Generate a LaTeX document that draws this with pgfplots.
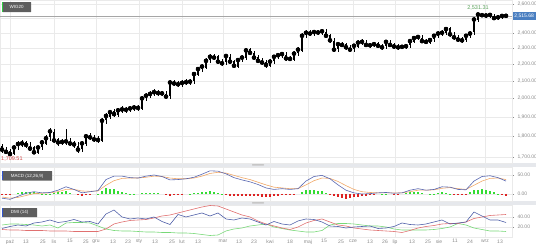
\documentclass[border=0pt]{standalone}
\usepackage{pgfplots}
\pgfplotsset{compat=1.18}
\usepackage{pgfplotstable}
\usepackage{fontspec}
\setmainfont{Liberation Sans}
\definecolor{gridc}{HTML}{EAEAEA}
\definecolor{tickc}{HTML}{8A8A8A}
\definecolor{sepc}{HTML}{E6E8EC}
\definecolor{boxc}{HTML}{5E5E5E}
\definecolor{macdb}{HTML}{5866B0}
\definecolor{macds}{HTML}{F0A868}
\definecolor{histg}{HTML}{33DD33}
\definecolor{histr}{HTML}{DD2222}
\definecolor{dmib}{HTML}{4F5FA8}
\definecolor{dmir}{HTML}{E07070}
\definecolor{dmig}{HTML}{78D878}
\definecolor{pricebox}{HTML}{4A7FC1}
\definecolor{hig}{HTML}{58A058}
\definecolor{lor}{HTML}{D04848}
\definecolor{stripeg}{HTML}{2ECC40}
\definecolor{stripeb}{HTML}{3355CC}

\pgfplotstableread{
x o h l c
2 1751 1760 1720 1735
6 1730 1748 1712 1724
10 1727 1737 1709.51 1714
14 1714 1759 1711 1745
18 1750 1776 1731 1762
22 1759 1780 1747 1765
26 1772 1778 1743 1758
30 1754 1770 1726 1740
34 1746 1753 1712 1722
38 1717 1757 1712 1745
42 1748 1784 1732 1770
46 1764 1805 1756 1790
50 1795 1842 1777 1825
54 1822 1837 1766 1780
58 1787 1794 1754 1770
62 1766 1787 1756 1772
66 1778 1836 1758 1775
70 1770 1790 1750 1765
74 1768 1779 1744 1760
78 1754 1772 1718 1735
82 1740 1778 1722 1765
86 1762 1814 1752 1800
90 1807 1816 1780 1795
94 1791 1808 1771 1785
98 1791 1800 1767 1782
102 1777 1894 1771 1880
106 1883 1920 1865 1905
110 1899 1939 1891 1925
114 1930 1940 1900 1915
118 1912 1949 1902 1935
122 1942 1956 1921 1940
126 1936 1954 1923 1938
130 1944 1960 1924 1945
134 1940 1965 1931 1950
138 1953 1964 1932 1948
142 1942 2014 1936 2000
146 2005 2030 1986 2015
150 2012 2041 2001 2025
154 2032 2050 2011 2035
158 2031 2049 2015 2030
162 2036 2044 2012 2028
166 2023 2041 1995 2010
170 2013 2105 1998 2090
174 2084 2106 2070 2085
178 2090 2099 2065 2080
182 2077 2102 2066 2088
186 2095 2108 2074 2092
190 2088 2110 2078 2095
194 2101 2155 2082 2140
198 2135 2185 2126 2170
202 2173 2201 2155 2185
206 2179 2235 2171 2220
210 2225 2262 2206 2245
214 2242 2260 2224 2240
218 2247 2254 2200 2215
222 2211 2230 2188 2205
226 2211 2264 2192 2250
230 2245 2263 2200 2215
234 2218 2228 2174 2190
238 2184 2239 2177 2225
242 2230 2255 2210 2240
246 2237 2302 2227 2285
250 2292 2299 2254 2270
254 2266 2283 2225 2240
258 2246 2254 2205 2220
262 2215 2235 2195 2210
266 2213 2224 2179 2195
270 2189 2229 2182 2215
274 2220 2259 2201 2245
278 2242 2270 2231 2255
282 2262 2278 2240 2262
286 2258 2275 2220 2235
290 2241 2250 2217 2232
294 2227 2279 2219 2265
298 2268 2305 2251 2290
302 2284 2396 2277 2380
306 2385 2416 2365 2400
310 2397 2417 2380 2395
314 2402 2420 2381 2405
318 2401 2419 2387 2402
322 2408 2426 2388 2410
326 2405 2423 2365 2380
330 2383 2394 2334 2350
334 2344 2364 2272 2290
338 2295 2339 2277 2325
342 2322 2341 2305 2320
346 2327 2334 2290 2305
350 2301 2319 2274 2290
354 2296 2329 2277 2315
358 2310 2350 2301 2335
362 2338 2356 2321 2340
366 2334 2354 2305 2320
370 2325 2335 2302 2318
374 2315 2340 2304 2325
378 2332 2338 2300 2315
382 2311 2329 2290 2305
386 2311 2354 2292 2340
390 2335 2353 2305 2320
394 2323 2334 2295 2310
398 2304 2324 2290 2305
402 2310 2322 2291 2308
406 2305 2327 2294 2312
410 2319 2359 2299 2345
414 2341 2380 2331 2365
418 2371 2388 2350 2372
422 2367 2385 2330 2345
426 2348 2360 2325 2340
430 2334 2367 2326 2352
434 2357 2394 2339 2380
438 2377 2410 2366 2395
442 2402 2416 2380 2400
446 2396 2442 2386 2425
450 2431 2438 2375 2390
454 2385 2404 2354 2370
458 2373 2384 2340 2355
462 2349 2370 2334 2350
466 2355 2394 2337 2380
470 2377 2410 2366 2395
474 2402 2505 2382 2490
478 2486 2531.31 2476 2525
482 2528 2530 2504 2520
486 2515 2529 2502 2518
490 2521 2529 2503 2522
494 2516 2527 2485 2500
498 2505 2520 2488 2505
502 2502 2524 2491 2515
506 2522 2527 2500 2515.68
}\candles

\pgfplotstableread{
x m s
2 -11 -8
10 -14 -11
18 -6 -9
26 2 -4
34 6 1
42 3 2
50 4 3
58 10 6
66 19 12
74 12 12
82 3 8
90 6 7
98 9 8
106 38 23
114 47 35
122 47 41
130 43 42
138 42 42
146 47 44
154 50 47
162 46 46
170 37 42
178 38 40
186 40 40
194 44 42
202 52 47
210 61 54
218 60 57
226 53 55
234 43 49
242 37 43
250 32 38
258 25 31
266 16 24
274 12 18
282 14 16
290 12 14
298 14 14
306 34 24
314 46 35
322 49 42
330 40 41
338 24 33
346 10 22
354 3 12
362 0 6
370 1 4
378 3 3
386 4 3
394 2 3
402 3 3
410 10 6
418 14 10
426 10 10
434 12 11
442 19 15
450 18 17
458 12 14
466 11 12
474 34 23
482 46 34
490 48 41
498 43 42
506 34 38
}\macd

\pgfplotstableread{
x h
2 -3
6 -3
10 -3
14 0
18 3
22 4.5
26 6
30 5.5
34 5
38 3
42 1
46 1
50 1
54 2.5
58 4
62 5.5
66 7
70 3.5
74 0
78 -2.5
82 -5
86 -3
90 -1
94 0
98 1
102 8
106 15
110 13.5
114 12
118 9
122 6
126 3.5
130 1
134 0.5
138 0
142 1.5
146 3
150 3
154 3
158 1.5
162 0
166 -2.5
170 -5
174 -3.5
178 -2
182 -1
186 0
190 1
194 2
198 3.5
202 5
206 6
210 7
214 5
218 3
222 0.5
226 -2
230 -4
234 -6
238 -6
242 -6
246 -6
250 -6
254 -6
258 -6
262 -7
266 -8
270 -7
274 -6
278 -4
282 -2
286 -2
290 -2
294 -1
298 0
302 5
306 10
310 10.5
314 11
318 9
322 7
326 3
330 -1
334 -5
338 -9
342 -10.5
346 -12
350 -10.5
354 -9
358 -7.5
362 -6
366 -4.5
370 -3
374 -1.5
378 0
382 0.5
386 1
390 0
394 -1
398 -0.5
402 0
406 2
410 4
414 4
418 4
422 2
426 0
430 0.5
434 1
438 2.5
442 4
446 2.5
450 1
454 -0.5
458 -2
462 -1.5
466 -1
470 5
474 11
478 11.5
482 12
486 9.5
490 7
494 4
498 1
502 -2.5
506 -4
}\hist

\pgfplotstableread{
x b r g
2 17 15 24
10 21 14 26
18 24 14 26
26 22 13 25
34 28 13 24
42 30 13 22
50 34 12 24
58 29 12 18
66 31 12 28
74 35 11 29
82 30 11 29
90 31 11 28
98 26 11 22
106 46 16 16
114 54 26 13
122 40 30 12
130 36 33 12
138 38 34 11
146 36 35 10
154 40 38 10
162 31 42 9
170 25 44 9
178 45 48 8
186 40 52 8
194 44 56 7
202 48 60 5
210 42 63 3
218 48 62 4
226 36 56 12
234 34 50 16
242 38 44 18
250 36 40 22
258 30 32 24
266 24 26 26
274 31 22 20
282 26 18 17
290 24 15 14
298 32 20 12
306 36 28 10
314 35 33 10
322 30 36 13
330 22 30 24
338 21 24 27
346 18 22 27
354 20 18 26
362 21 16 24
370 22 14 22
378 17 13 22
386 18 12 20
394 21 11 16
402 28 9 14
410 25 13 14
418 24 18 14
426 26 21 14
434 30 23 15
442 34 26 17
450 26 27 20
458 28 27 27
466 30 30 24
474 50 37 18
482 42 40 15
490 34 43 12
498 34 44 12
506 29 45 11
}\dmi

\pgfplotsset{
  panel/.style={
    scale only axis, width=512pt, xmin=0, xmax=512, clip=false,
    axis line style={draw=gridc},
    xtick={10,54,96,139,182,223,270,308,353,395,439,485},
    xticklabels={}, xmajorgrids, ymajorgrids,
    grid style={draw=gridc, line width=0.4pt},
    xtick style={draw=none},
    ytick pos=right, yticklabel pos=right,
    ytick style={draw=tickc, line width=0.4pt},
    tick align=outside, major tick length=2pt,
    yticklabel style={font=\fontsize{5}{6}\selectfont, text=tickc},
  }
}

\begin{document}
\begin{tikzpicture}
\useasboundingbox (0,0) rectangle (536pt,248pt);
\fill[sepc] (0,81pt) rectangle (536pt,85pt);
\fill[sepc] (0,43pt) rectangle (536pt,47pt);

% main price panel
\begin{axis}[panel, at={(0pt,85pt)}, anchor=south west, height=163pt,
  ymode=log, ymin=1671.6, ymax=2629, yminorticks=false,
  ytick={1700,1800,1900,2000,2100,2200,2300,2400,2500,2600},
  yticklabels={{1,700.00},{1,800.00},{1,900.00},{2,000.00},{2,100.00},{2,200.00},{2,300.00},{2,400.00},{},{2,600.00}},
]
\draw[gray!70, line width=0.4pt] (axis cs:0,2515.68) -- (axis cs:512,2515.68);
\addplot[black, only marks, mark=none,
  error bars/.cd, y dir=both, y explicit, error mark=none,
  error bar style={line width=0.45pt, black}]
  table[x=x, y=c, y error plus expr=\thisrow{h}-\thisrow{c}, y error minus expr=\thisrow{c}-\thisrow{l}] {\candles};
\addplot[black, only marks, mark=none,
  error bars/.cd, y dir=both, y explicit, error mark=none,
  error bar style={line width=1.2pt, black, line cap=butt}]
  table[x=x, y=c, y error plus expr={max(\thisrow{o},\thisrow{c})-\thisrow{c}}, y error minus expr={\thisrow{c}-min(\thisrow{o},\thisrow{c})}] {\candles};
\node[fill=pricebox, text=white, font=\fontsize{5}{6}\selectfont, inner sep=0.5pt, minimum width=23pt, minimum height=8pt, anchor=west] at (axis cs:512.5,2515.68) {2,515.68};
\node[text=hig, font=\fontsize{5.5}{6}\selectfont, anchor=south, yshift=2.5pt, inner sep=0.5pt] at (axis cs:478,2531.31) {2,531.31};
\node[text=lor, font=\fontsize{5.5}{6}\selectfont, anchor=north west, inner sep=0.5pt, yshift=-1pt] at (axis cs:0.5,1709.51) {1,709.51};
\end{axis}

% MACD panel
\begin{axis}[panel, at={(0pt,47pt)}, anchor=south west, height=34pt,
  ymin=-18.4, ymax=71, ytick={0,50}, yticklabels={0.00,50.00}]
\addplot[ycomb, histg, line width=1.3pt, y filter/.expression={y>0 ? y : nan}] table[x=x,y=h]{\hist};
\addplot[ycomb, histr, line width=1.3pt, y filter/.expression={y<0 ? y : nan}] table[x=x,y=h]{\hist};
\addplot[macds, line width=0.6pt] table[x=x,y=s]{\macd};
\addplot[macdb, line width=0.6pt] table[x=x,y=m]{\macd};
\end{axis}

% DMI panel
\begin{axis}[panel, at={(0pt,11pt)}, anchor=south west, height=32pt,
  ymin=0, ymax=64, ytick={20,40}, yticklabels={20.00,40.00},
  extra x ticks={10,26,43,54,70,86,96,113,128,139,155,172,182,198,223,239,254,270,290,308,324,341,353,370,385,395,412,428,439,455,470,485,500},
  extra x tick labels={paź,13,25,lis,15,25,gru,13,23,sty,13,25,lut,13,mar,13,23,kwi,18,maj,15,25,cze,13,26,lip,13,25,sie,11,24,wrz,13},
  extra x tick style={grid=none, major tick length=0pt, xticklabel style={font=\fontsize{5}{6}\selectfont, text=tickc, yshift=1pt}},
]
\addplot[dmig, line width=0.6pt] table[x=x,y=g]{\dmi};
\addplot[dmir, line width=0.6pt] table[x=x,y=r]{\dmi};
\addplot[dmib, line width=0.6pt] table[x=x,y=b]{\dmi};
\end{axis}

% panel labels and handles
\node[fill=boxc, text=white, font=\fontsize{4.5}{5}\selectfont, anchor=north west, minimum width=29pt, minimum height=10pt, inner sep=0pt, rounded corners=0.5pt] at (2pt,246pt) {WIG20};
\fill[stripeg] (2pt,236pt) rectangle (3pt,246pt);
\node[fill=boxc, text=white, font=\fontsize{4.5}{5}\selectfont, anchor=north west, minimum width=50pt, minimum height=9.5pt, inner sep=0pt, rounded corners=0.5pt] at (2pt,77pt) {MACD (12,26,9)};
\fill[stripeb] (2pt,67.5pt) rectangle (3pt,77pt);
\node[fill=boxc, text=white, font=\fontsize{4.5}{5}\selectfont, anchor=north west, minimum width=35pt, minimum height=9pt, inner sep=0pt, rounded corners=0.5pt] at (2pt,40pt) {DMI (14)};
\fill[stripeb] (2pt,31pt) rectangle (3pt,40pt);
\fill[gray!45, rounded corners=0.4pt] (252pt,82.4pt) rectangle (264pt,83.8pt);
\fill[gray!45, rounded corners=0.4pt] (252pt,44.4pt) rectangle (264pt,45.8pt);
\end{tikzpicture}
\end{document}
